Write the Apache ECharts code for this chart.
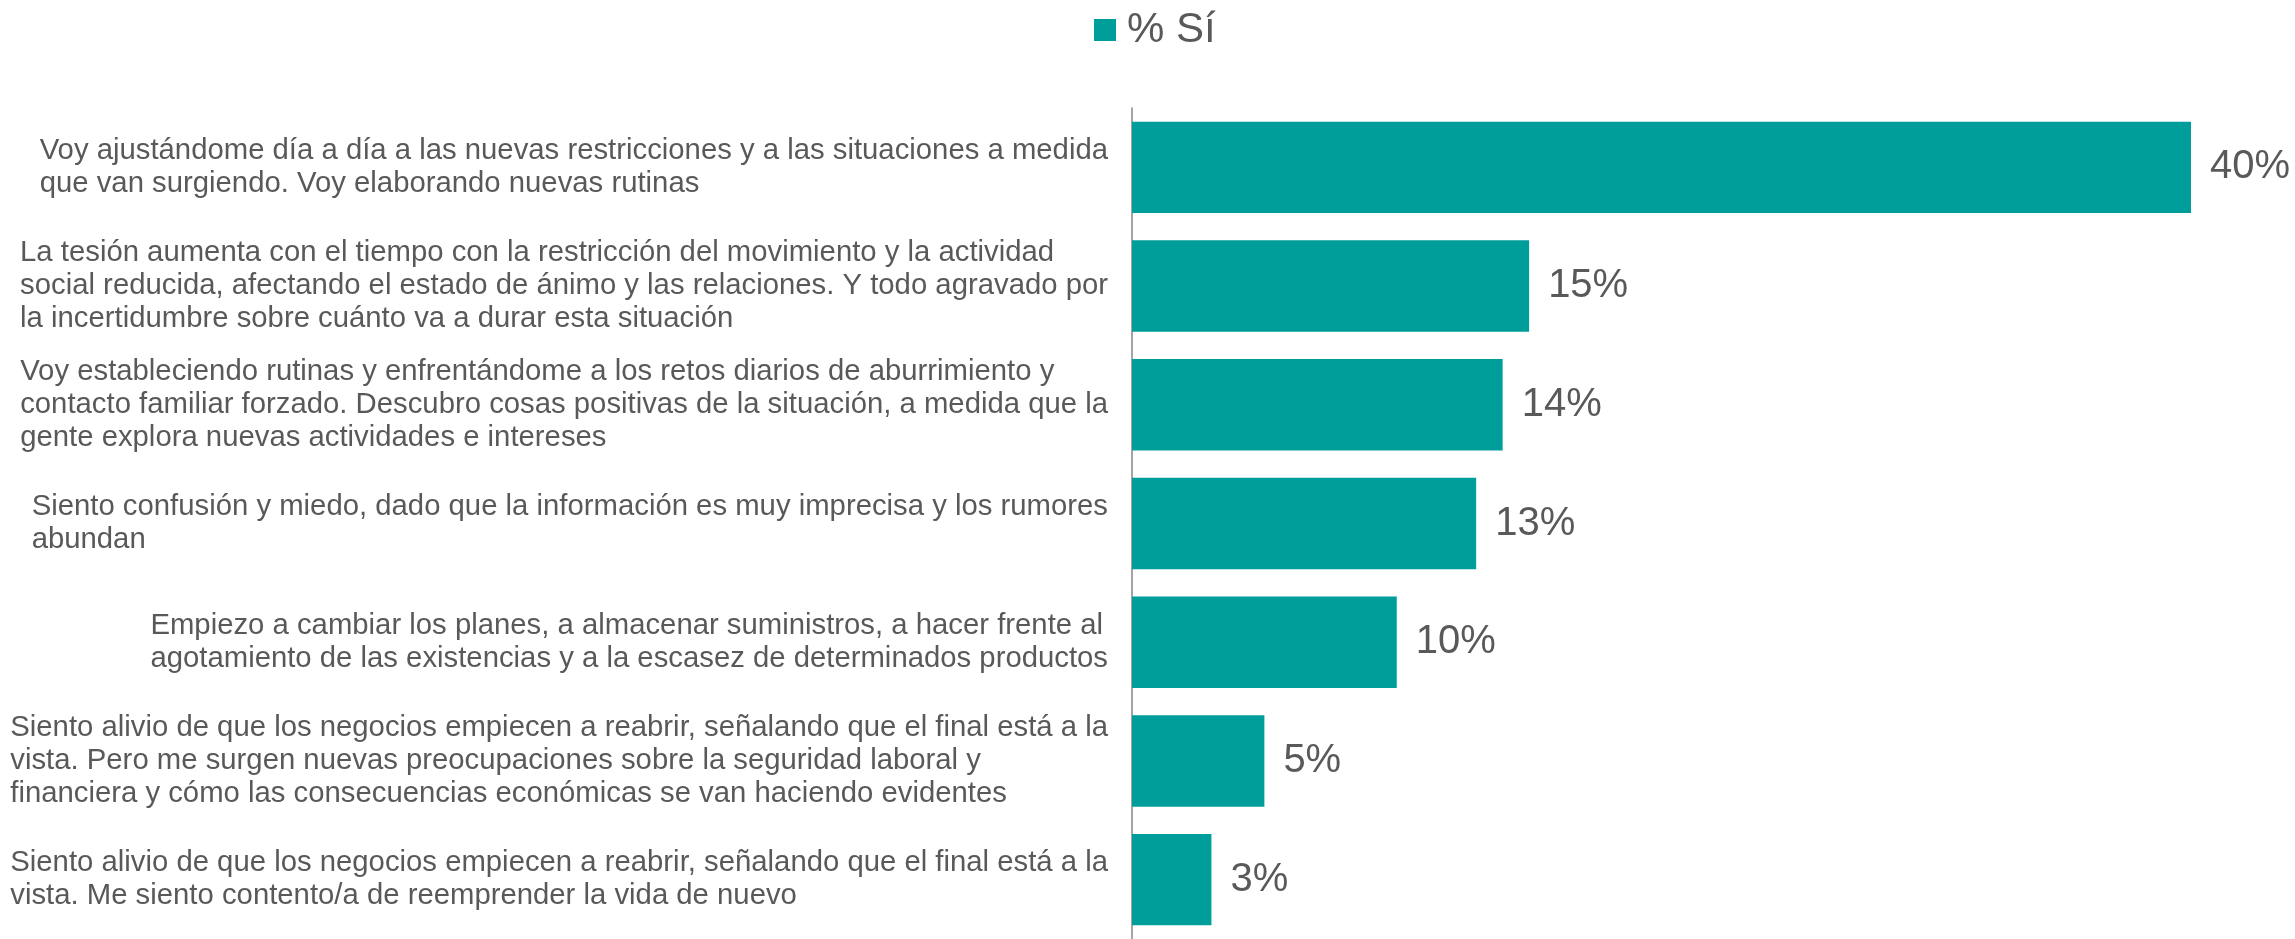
<!DOCTYPE html>
<html>
<head>
<meta charset="utf-8">
<script src="https://cdn.jsdelivr.net/npm/echarts@6/dist/echarts.min.js"></script>
<style>
  html, body { margin: 0; padding: 0; background: #fff; }
  #chart { width: 2295px; height: 939px; }
</style>
</head>
<body>
<div id="chart"></div>
<script>
// Data
const seriesName = "% Sí";
const categories = [
  "Voy ajustándome día a día a las nuevas restricciones y a las situaciones a medida\nque van surgiendo. Voy elaborando nuevas rutinas",
  "La tesión aumenta con el tiempo con la restricción del movimiento y la actividad\nsocial reducida, afectando el estado de ánimo y las relaciones. Y todo agravado por\nla incertidumbre sobre cuánto va a durar esta situación",
  "Voy estableciendo rutinas y enfrentándome a los retos diarios de aburrimiento y\ncontacto familiar forzado. Descubro cosas positivas de la situación, a medida que la\ngente explora nuevas actividades e intereses",
  "Siento confusión y miedo, dado que la información es muy imprecisa y los rumores\nabundan",
  "Empiezo a cambiar los planes, a almacenar suministros, a hacer frente al\nagotamiento de las existencias y a la escasez de determinados productos",
  "Siento alivio de que los negocios empiecen a reabrir, señalando que el final está a la\nvista. Pero me surgen nuevas preocupaciones sobre la seguridad laboral y\nfinanciera y cómo las consecuencias económicas se van haciendo evidentes",
  "Siento alivio de que los negocios empiecen a reabrir, señalando que el final está a la\nvista. Me siento contento/a de reemprender la vida de nuevo"
];
const values = [40, 15, 14, 13, 10, 5, 3];

const barColor = "#009e9b";
const textColor = "#595959";
const fontFamily = "Liberation Sans, Arial, sans-serif";

const chart = echarts.init(document.getElementById("chart"));

const option = {
  animation: false,
  legend: {
    data: [seriesName],
    left: 1089,
    top: 4,
    itemWidth: 22,
    itemHeight: 22,
    icon: "rect",
    textStyle: {
      color: textColor,
      fontSize: 42,
      fontFamily: fontFamily,
      lineHeight: 22,
      padding: [0, 0, 0, 6]
    }
  },
  grid: {
    left: 1132,
    right: 104,
    top: 108,
    height: 838
  },
  xAxis: {
    type: "value",
    min: 0,
    max: 40,
    show: false
  },
  yAxis: {
    type: "category",
    inverse: true,
    data: categories,
    axisLine: { show: true, lineStyle: { color: "#868686", width: 1.5 } },
    axisTick: { show: false },
    axisLabel: {
      margin: 24,
      align: "right",
      color: textColor,
      fontSize: 29.3,
      fontFamily: fontFamily,
      lineHeight: 33,
      // lines left-aligned inside a right-aligned block
      formatter: function (value) {
        return value.split("\n").map(function (line) {
          return "{t|" + line + "}";
        }).join("\n");
      },
      rich: {
        t: {
          align: "left",
          color: textColor,
          fontSize: 29.3,
          fontFamily: fontFamily,
          lineHeight: 33
        }
      }
    }
  },
  series: [
    {
      name: seriesName,
      type: "bar",
      data: values,
      barCategoryGap: "23%",
      itemStyle: { color: barColor },
      label: {
        show: true,
        position: "right",
        distance: 19,
        formatter: "{c}%",
        color: textColor,
        fontSize: 40,
        fontFamily: fontFamily
      }
    }
  ]
};

chart.setOption(option);
</script>
</body>
</html>
